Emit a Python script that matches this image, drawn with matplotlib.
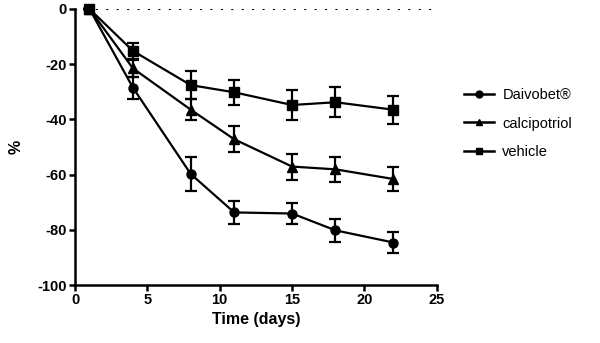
import matplotlib.pyplot as plt
from matplotlib.lines import Line2D

plt.rcParams["font.family"] = ["Liberation Sans", "DejaVu Sans"]
plt.rcParams["axes.unicode_minus"] = False

# ── data ──────────────────────────────────────────────────────────────────────
days = [1, 4, 8, 11, 15, 18, 22]

daivobet     = [0, -28.5, -59.8, -73.7, -74.1, -80.2, -84.6]
daivobet_err = [0, 4.0, 6.2, 4.1, 3.7, 4.1, 3.8]

calcipotriol     = [0, -21.5, -36.5, -47.2, -57.1, -58.1, -61.6]
calcipotriol_err = [0, 3.0, 3.8, 4.7, 4.7, 4.5, 4.2]

vehicle     = [0, -15.2, -27.6, -30.2, -34.8, -33.8, -36.5]
vehicle_err = [0, 3.0, 5.0, 4.6, 5.5, 5.4, 5.0]

labels  = ["Daivobet®", "calcipotriol", "vehicle"]
markers = ["o", "^", "s"]

# ── plot ──────────────────────────────────────────────────────────────────────
fig = plt.figure(figsize=(6.0, 3.43), dpi=100)
ax = fig.add_axes([0.125, 0.169, 0.603, 0.805])

series = [(daivobet, daivobet_err), (calcipotriol, calcipotriol_err),
          (vehicle, vehicle_err)]
for (vals, err), mk in zip(series, markers):
    ax.errorbar(days, vals, yerr=err, color="black", marker=mk, markersize=6.5,
                linewidth=1.6, elinewidth=1.6, capsize=4, capthick=1.6,
                clip_on=False, zorder=3)

ax.axhline(0, color="black", linestyle=(0, (1, 4)), linewidth=1.5, zorder=1)

ax.set_xlim(0, 25)
ax.set_ylim(-100, 0)
ax.set_xticks([0, 5, 10, 15, 20, 25])
ax.set_yticks([-100, -80, -60, -40, -20, 0])

for s in ["top", "right"]:
    ax.spines[s].set_visible(False)
for s in ["left", "bottom"]:
    ax.spines[s].set_linewidth(1.8)
ax.tick_params(direction="out", width=1.8, length=4, pad=2, labelsize=10.5)
for t in ax.get_xticklabels() + ax.get_yticklabels():
    t.set_fontweight("bold")

ax.set_xlabel("Time (days)", fontsize=11.5, fontweight="bold", labelpad=3)
ax.set_ylabel("%", fontsize=11.5, fontweight="bold", labelpad=10)

handles = [Line2D([], [], color="black", marker=mk, markersize=5, linewidth=1.8)
           for mk in markers]
ax.legend(handles, labels, loc="center left", bbox_to_anchor=(1.04, 0.585),
          frameon=False, fontsize=10.5, handlelength=2.0, handletextpad=0.6,
          labelspacing=1.0)

fig.savefig("out.png", dpi=100)
